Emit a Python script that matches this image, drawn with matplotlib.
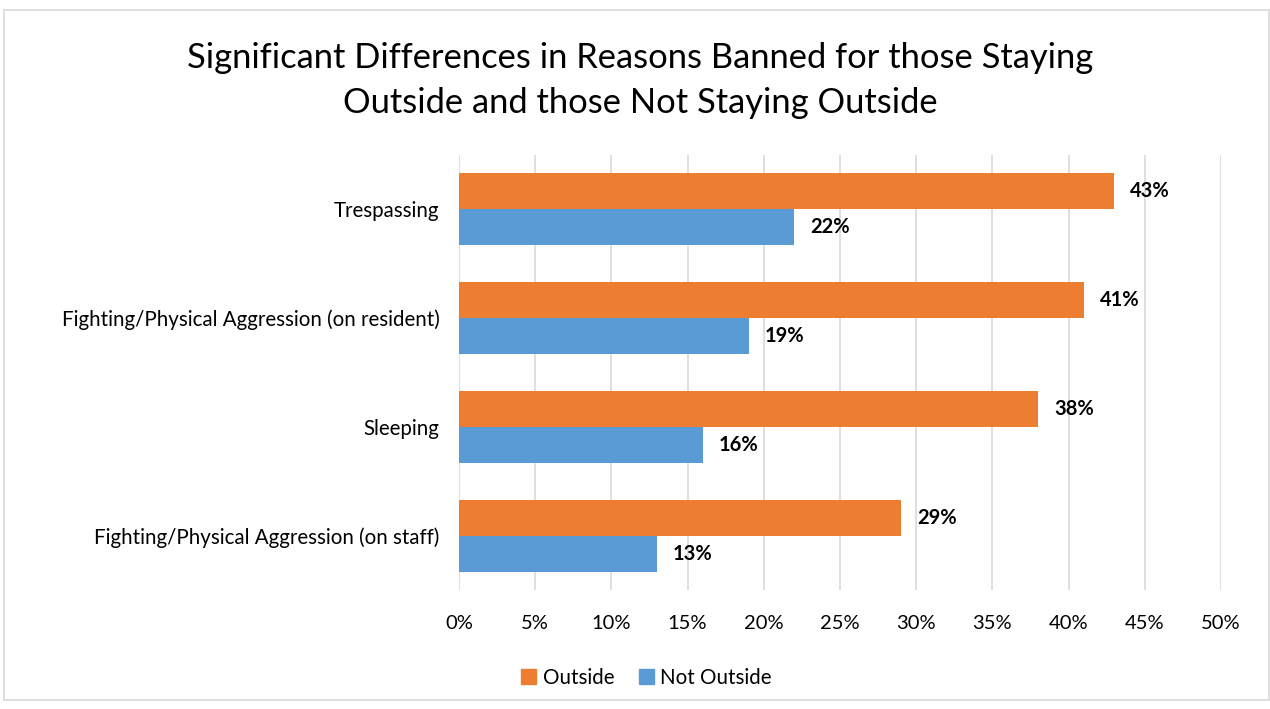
import matplotlib.pyplot as plt
import matplotlib.patches as mpatches
import numpy as np

plt.rcParams['font.family'] = ['Lato', 'DejaVu Sans']

categories = ['Trespassing', 'Fighting/Physical Aggression (on resident)',
              'Sleeping', 'Fighting/Physical Aggression (on staff)']
outside = [43, 41, 38, 29]
not_outside = [22, 19, 16, 13]
xticks = [0, 5, 10, 15, 20, 25, 30, 35, 40, 45, 50]

orange = '#ED7D31'
blue = '#5B9BD5'

fig = plt.figure(figsize=(12.7, 7.09), dpi=100)
ax = fig.add_axes([0.3614, 0.1678, 0.6, 0.6136])

# figure border
fig.patches.append(mpatches.Rectangle((0.003, 0.012), 0.996, 0.974, transform=fig.transFigure,
                                      fill=False, edgecolor='#D9D9D9', linewidth=1.2))

y = np.arange(len(categories))[::-1]
h = 0.33
ax.barh(y + h / 2, outside, height=h, color=orange, label='Outside', zorder=3)
ax.barh(y - h / 2, not_outside, height=h, color=blue, label='Not Outside', zorder=3)

for yi, v in zip(y, outside):
    ax.text(v + 1.05, yi + h / 2, '{}%'.format(v), va='center', ha='left',
            fontsize=14.5, fontweight='bold')
for yi, v in zip(y, not_outside):
    ax.text(v + 1.05, yi - h / 2, '{}%'.format(v), va='center', ha='left',
            fontsize=14.5, fontweight='bold')

ax.set_xlim(0, 50)
ax.set_ylim(-0.5, 3.5)
ax.set_xticks(xticks)
ax.set_xticklabels(['{}%'.format(t) for t in xticks], fontsize=14.5)
ax.set_yticks(y)
ax.set_yticklabels(categories, fontsize=14.8)
ax.tick_params(length=0, pad=14, axis='y')
ax.tick_params(length=0, pad=18, axis='x')
ax.xaxis.grid(True, color='#D9D9D9', linewidth=1.2, zorder=0)
for s in ax.spines.values():
    s.set_visible(False)

fig.text(0.504, 0.887, 'Significant Differences in Reasons Banned for those Staying\nOutside and those Not Staying Outside',
         ha='center', va='center', fontsize=24.8, linespacing=1.5)

handles = [mpatches.Patch(color=orange, label='Outside'),
           mpatches.Patch(color=blue, label='Not Outside')]
fig.legend(handles=handles, loc='center', bbox_to_anchor=(0.509, 0.044), ncol=2,
           frameon=False, fontsize=14.8, handlelength=0.75, handleheight=0.75,
           handletextpad=0.3, columnspacing=1.2)

fig.savefig('out.png', dpi=100)
